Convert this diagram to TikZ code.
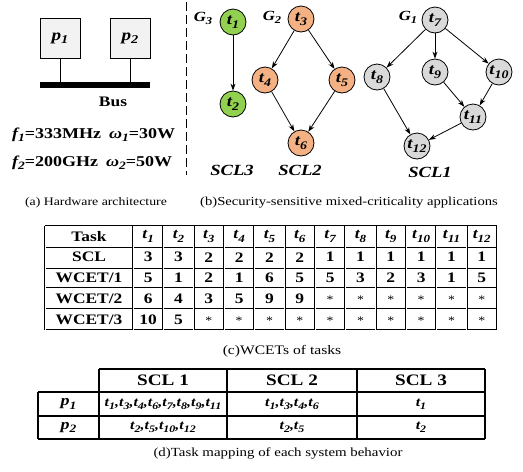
\documentclass[tikz,border=0pt]{standalone}
\usepackage{graphicx}
\usepackage{fontspec}
\setmainfont[FakeStretch=1.2]{Liberation Serif}
\usetikzlibrary{arrows.meta}
\definecolor{gfill}{HTML}{92D050}
\definecolor{ofill}{HTML}{F4B183}
\definecolor{sfill}{HTML}{D9D9D9}
\definecolor{pfill}{HTML}{F2F2F2}
\newcommand{\sbs}[1]{\raisebox{-0.22em}{\scalebox{0.75}{#1}}}
\newcommand{\tk}[1]{{\bfseries\itshape t\sbs{#1}}}
\newcommand{\bi}[1]{{\bfseries\itshape #1}}
\begin{document}
\begin{tikzpicture}[x=1pt,y=-1pt,
  task/.style={circle,draw,line width=0.8pt,minimum size=26pt,inner sep=0pt,font=\fontsize{15.5}{17}\selectfont},
  conn/.style={-{Stealth[length=7pt,width=5pt]},line width=0.8pt},
  proc/.style={draw,line width=0.8pt,fill=pfill,minimum width=40pt,minimum height=40pt,inner sep=0pt,font=\fontsize{16}{18}\selectfont},
  glabel/.style={font=\fontsize{14}{16}\selectfont\bfseries\itshape,inner sep=0pt},
  scl/.style={font=\fontsize{15.5}{17}\selectfont\bfseries\itshape,inner sep=0pt},
  captext/.style={inner sep=0pt},
  hw/.style={font=\fontsize{15}{17}\selectfont\bfseries,inner sep=0pt},
  tc/.style={font=\fontsize{14.5}{16}\selectfont\bfseries,inner sep=0pt},
  asterisk/.style={font=\fontsize{11.5}{13}\selectfont,inner sep=0pt},
  dline/.style={double,double distance=0.9pt,line width=0.6pt},
  td/.style={font=\fontsize{13.3}{15}\selectfont\bfseries\itshape,inner sep=0pt},
  tdh/.style={font=\fontsize{16}{18}\selectfont\bfseries,inner sep=0pt},
  sline/.style={line width=1.1pt}]
\useasboundingbox (0,0) rectangle (523,472);
% ---------- (a) hardware ----------
\node[proc] (p1) at (60,38) {\bi{p\sbs{1}}};
\node[proc] (p2) at (130,38) {\bi{p\sbs{2}}};
\fill (40,82) rectangle (150,88);
\coordinate (b1) at (60,82);
\coordinate (b2) at (130,82);
\draw[line width=0.8pt] (p1.south) -- (b1);
\draw[line width=0.8pt] (p2.south) -- (b2);
\node[hw,font=\fontsize{14.5}{16}\selectfont\bfseries] (bus) at (113,102) {Bus};
\node[hw,anchor=west] (f1) at (12,135) {\bi{f\sbs{1}}=333MHz\hspace{8pt}\bi{ω\sbs{1}}=30W};
\node[hw,anchor=west] (f2) at (12,163) {\bi{f\sbs{2}}=200GHz\hspace{8pt}\bi{ω\sbs{2}}=50W};
\node[captext,font=\fontsize{11.5}{13}\selectfont] (capa) at (96,203) {(a) Hardware architecture};
\draw[line width=0.6pt,dash pattern=on 9pt off 4pt] (186,2) -- (186,175);
% ---------- (b) applications ----------
\node[glabel] (g3) at (203,18) {G\sbs{3}};
\node[task,fill=gfill] (t1) at (233,22) {\tk{1}};
\node[task,fill=gfill] (t2) at (233,104) {\tk{2}};
\node[glabel] (g2) at (272,17) {G\sbs{2}};
\node[task,fill=ofill] (t3) at (301,19) {\tk{3}};
\node[task,fill=ofill] (t4) at (265,80) {\tk{4}};
\node[task,fill=ofill] (t5) at (342,80) {\tk{5}};
\node[task,fill=ofill] (t6) at (301,143) {\tk{6}};
\node[glabel] (g1) at (408,17) {G\sbs{1}};
\node[task,fill=sfill] (t7) at (435,20) {\tk{7}};
\node[task,fill=sfill] (t8) at (377,77) {\tk{8}};
\node[task,fill=sfill] (t9) at (435,72) {\tk{9}};
\node[task,fill=sfill] (t10) at (499,72) {\tk{10}};
\node[task,fill=sfill] (t11) at (473,117) {\tk{11}};
\node[task,fill=sfill] (t12) at (417,146) {\tk{12}};
\draw[conn] (t1) -- (t2);
\draw[conn] (t3) -- (t4);
\draw[conn] (t3) -- (t5);
\draw[conn] (t4) -- (t6);
\draw[conn] (t5) -- (t6);
\draw[conn] (t7) -- (t8);
\draw[conn] (t7) -- (t9);
\draw[conn] (t7) -- (t10);
\draw[conn] (t9) -- (t11);
\draw[conn] (t10) -- (t11);
\draw[conn] (t8) -- (t12);
\draw[conn] (t11) -- (t12);
\node[scl] (s3) at (232,170) {SCL3};
\node[scl] (s2) at (300,170) {SCL2};
\node[scl] (s1) at (430,172) {SCL1};
\node[captext,font=\fontsize{12.2}{14}\selectfont] (capb) at (349,203) {(b)Security-sensitive mixed-criticality applications};
% ---------- (c) WCET table ----------
\def\cw{30.333}
\foreach \y in {226,246.8,267.6,288.4,309.2,330} \draw[dline] (45,\y) -- (497,\y);
\draw[dline] (45,226) -- (45,330);
\foreach \i in {0,...,12} \draw[dline] (133+\i*\cw,226) -- (133+\i*\cw,330);
\foreach \lab [count=\r] in {Task,SCL,WCET/1,WCET/2,WCET/3}
  \node[tc] (rh\r) at (89,215.6+\r*20.8) {\lab};
\foreach \i in {1,...,12}
  \node[tc] (ch\i) at (133+\i*\cw-\cw/2,236.4) {\tk{\i}};
\foreach \v [count=\i] in {3,3,2,2,2,2,1,1,1,1,1,1}
  \node[tc] (s\i) at (133+\i*\cw-\cw/2,257.2) {\v};
\foreach \v [count=\i] in {5,1,2,1,6,5,5,3,2,3,1,5}
  \node[tc] (wa\i) at (133+\i*\cw-\cw/2,278) {\v};
\foreach \v [count=\i] in {6,4,3,5,9,9}
  \node[tc] (wb\i) at (133+\i*\cw-\cw/2,298.8) {\v};
\foreach \i in {7,...,12}
  \node[asterisk] (wb\i) at (133+\i*\cw-\cw/2,299.5) {*};
\foreach \v [count=\i] in {10,5}
  \node[tc] (wc\i) at (133+\i*\cw-\cw/2,319.6) {\v};
\foreach \i in {3,...,12}
  \node[asterisk] (wc\i) at (133+\i*\cw-\cw/2,320.3) {*};
\node[captext,font=\fontsize{13}{15}\selectfont] (capc) at (282,351) {(c)WCETs of tasks};
% ---------- (d) mapping table ----------
\draw[sline] (99,369) -- (485,369);
\foreach \y in {392,416,439} \draw[sline] (38,\y) -- (485,\y);
\draw[sline] (38,392) -- (38,439);
\foreach \x in {99,227,357,485} \draw[sline] (\x,369) -- (\x,439);
\node[tdh] (h1) at (163,380.5) {SCL 1};
\node[tdh] (h2) at (292,380.5) {SCL 2};
\node[tdh] (h3) at (421,380.5) {SCL 3};
\node[td,font=\fontsize{15}{17}\selectfont\bfseries\itshape] (rp1) at (68.5,404) {p\sbs{1}};
\node[td,font=\fontsize{15}{17}\selectfont\bfseries\itshape] (rp2) at (68.5,427.5) {p\sbs{2}};
\node[td] (m11) at (163,404) {t\sbs{1},t\sbs{3},t\sbs{4},t\sbs{6},t\sbs{7},t\sbs{8},t\sbs{9},t\sbs{11}};
\node[td] (m12) at (292,404) {t\sbs{1},t\sbs{3},t\sbs{4},t\sbs{6}};
\node[td] (m13) at (421,404) {t\sbs{1}};
\node[td] (m21) at (163,427.5) {t\sbs{2},t\sbs{5},t\sbs{10},t\sbs{12}};
\node[td] (m22) at (292,427.5) {t\sbs{2},t\sbs{5}};
\node[td] (m23) at (421,427.5) {t\sbs{2}};
\node[captext,font=\fontsize{12.4}{14}\selectfont] (capd) at (278,453) {(d)Task mapping of each system behavior};
\end{tikzpicture}
\end{document}
